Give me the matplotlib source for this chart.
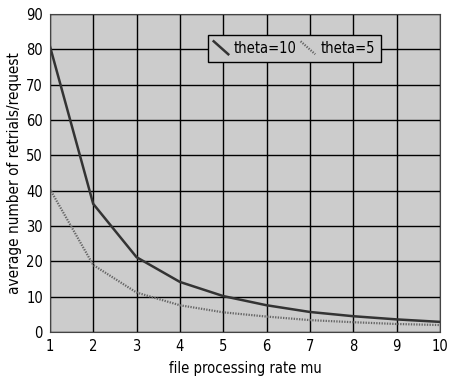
import matplotlib
matplotlib.use("Agg")
import matplotlib.pyplot as plt
from matplotlib.legend_handler import HandlerLine2D
from matplotlib.lines import Line2D

mu = [1, 2, 3, 4, 5, 6, 7, 8, 9, 10]
theta10 = [81, 36.3, 21.2, 14.2, 10.2, 7.6, 5.7, 4.5, 3.6, 2.9]
theta5 = [40.5, 19.0, 11.2, 7.6, 5.6, 4.4, 3.4, 2.8, 2.3, 2.0]
labels = ["theta=10", "theta=5"]

plt.rcParams['font.family'] = ['DejaVu Sans']
plt.rcParams['font.stretch'] = 'condensed'

FS = 10
fig = plt.figure(figsize=(4.49, 3.8), dpi=100)
ax = fig.add_axes([0.111, 0.126, 0.869, 0.837])
ax.set_facecolor('#cccccc')

l1, = ax.plot(mu, theta10, color='#333333', lw=1.8, label=labels[0])
l2, = ax.plot(mu, theta5, color='#666666', lw=1.6, ls=(0, (0.6, 0.6)), label=labels[1])

ax.set_xlim(1, 10)
ax.set_ylim(0, 90)
ax.set_xticks(range(1, 11))
ax.set_yticks(range(0, 91, 10))
ax.grid(True, color='black', lw=1)
ax.set_axisbelow(True)
for s in ax.spines.values():
    s.set_color('#444444')
ax.tick_params(length=0, labelsize=FS + 0.5, pad=5)
ax.set_xlabel('file processing rate mu', fontsize=10.5, labelpad=5)
ax.set_ylabel('average number of retrials/request', fontsize=11, labelpad=3)


class DiagHandler(HandlerLine2D):
    def create_artists(self, legend, orig_handle, xdescent, ydescent,
                       width, height, fontsize, trans):
        line = Line2D([0, width], [height + 1, -1])
        self.update_prop(line, orig_handle, legend)
        line.set_transform(trans)
        return [line]


leg = ax.legend(handles=[l1, l2], loc='upper left', bbox_to_anchor=(0.405, 0.934),
                borderaxespad=0, ncol=2, frameon=True, fancybox=False, fontsize=FS + 0.5,
                handlelength=1.0, handletextpad=0.35, columnspacing=0.3,
                borderpad=0.4, handler_map={Line2D: DiagHandler()})
leg.get_frame().set_edgecolor('black')
leg.get_frame().set_facecolor('#cccccc')
leg.get_frame().set_alpha(1)
leg.get_frame().set_linewidth(1)

fig.savefig('out.png', dpi=100)
